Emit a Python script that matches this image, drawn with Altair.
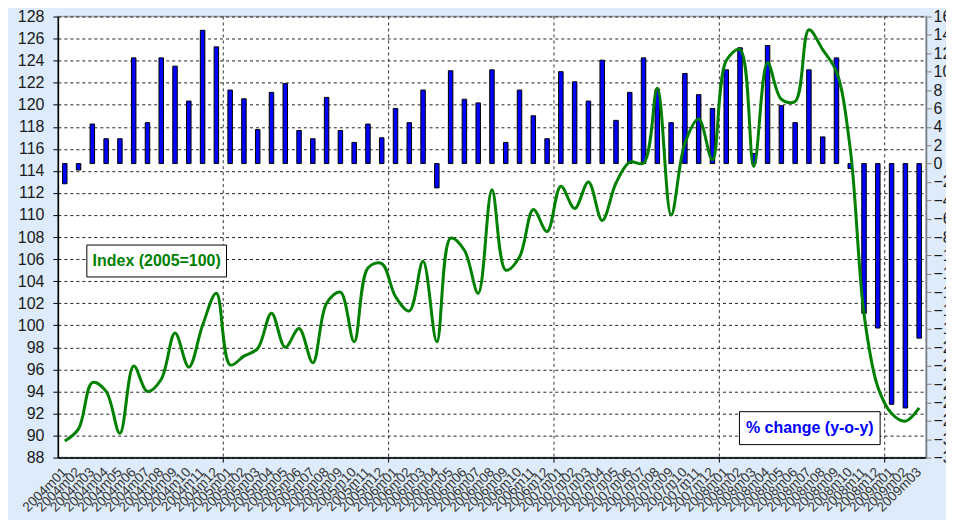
import altair as alt
import pandas as pd

# --- data ---
months = [f"{y}m{m:02d}" for y in range(2004, 2010) for m in range(1, 13)][:63]

index_2005 = [
    89.5, 90.6, 94.8, 94.0, 90.2, 96.3, 94.0, 95.1, 99.3, 96.2,
    100.0, 102.9, 96.4, 97.2, 97.9, 101.1, 98.0, 99.7, 96.6, 102.0,
    103.0, 98.5, 105.2, 105.6, 102.6, 101.3, 105.8, 98.5, 107.9, 106.8,
    102.9, 112.3, 105.0, 106.2, 110.5, 108.5, 112.6, 110.6, 113.0, 109.5,
    112.9, 114.8, 114.7, 121.5, 110.0, 116.5, 118.7, 115.0, 124.0, 125.0,
    114.4, 123.8, 120.5, 120.3, 126.8, 125.0, 123.0, 116.0, 101.0, 94.4,
    92.0, 91.3, 92.5,
]

pct_change = [
    -2.2, -0.7, 4.3, 2.7, 2.7, 11.5, 4.45, 11.5, 10.6, 6.8,
    14.5, 12.7, 8.0, 7.05, 3.7, 7.75, 8.7, 3.6, 2.7, 7.2,
    3.6, 2.3, 4.3, 2.8, 6.0, 4.45, 8.0, -2.65, 10.1, 7.0,
    6.6, 10.2, 2.3, 8.0, 5.2, 2.7, 10.0, 8.9, 6.8, 11.25,
    4.7, 7.75, 11.5, 8.1, 4.45, 9.8, 7.5, 6.0, 10.2, 12.6,
    1.1, 12.85, 6.3, 4.45, 10.2, 2.9, 11.5, -0.55, -16.3, -17.9,
    -26.2, -26.6, -19.0,
]

year_starts = ["2005m01", "2006m01", "2007m01", "2008m01", "2009m01"]
left_ticks = list(range(88, 129, 2))
right_ticks = list(range(-32, 17, 2))
index_label = ["Index (2005=100)"]
pct_label = ["% change (y-o-y)"]

df = pd.DataFrame({"month": months, "index": index_2005, "pct": pct_change})
grid_df = pd.DataFrame({"month": year_starts})

W, H = 870, 442
FONT = "Liberation Sans"

xscale = alt.Scale(domain=months, paddingInner=0, paddingOuter=0)
xaxis = alt.Axis(
    title=None, labelAngle=315, labelAlign="right", labelBaseline="middle",
    labelPadding=12, ticks=False, domain=True, domainColor="black",
    domainWidth=1.5, labelOverlap=False, labelFontSize=13.5,
    labelColor="#333333", labelFont=FONT, grid=False, labelBound=False,
)

vgrid = alt.Chart(grid_df).mark_rule(strokeDash=[3, 3], color="#333333", strokeWidth=1).encode(
    x=alt.X("month:N", bandPosition=0, scale=xscale, axis=xaxis, sort=months)
)
yticks = alt.Chart(grid_df).mark_rule(color="black", strokeWidth=1).encode(
    x=alt.X("month:N", bandPosition=0, scale=xscale, axis=xaxis, sort=months),
    y=alt.value(H), y2=alt.value(H + 5),
)

bars = alt.Chart(df).mark_bar(size=4.5, color="#0000FF", stroke="black", strokeWidth=1).encode(
    x=alt.X("month:N", scale=xscale, axis=xaxis, sort=months),
    y=alt.Y(
        "pct:Q",
        scale=alt.Scale(domain=[-32, 16], nice=False, zero=False),
        axis=alt.Axis(
            orient="right", values=right_ticks, title=None, grid=False,
            labelFontSize=16, labelFont=FONT, labelColor="#1a1a1a",
            tickSize=5, tickColor="#808080", domainColor="#808080",
            domainWidth=1.5, labelPadding=2, labelFlush=False,
        ),
    ),
    y2=alt.datum(0),
)

line = alt.Chart(df).mark_line(color="#008000", strokeWidth=3, interpolate="catmull-rom").encode(
    x=alt.X("month:N", scale=xscale, axis=xaxis, sort=months),
    y=alt.Y(
        "index:Q",
        scale=alt.Scale(domain=[88, 128], nice=False, zero=False),
        axis=alt.Axis(
            orient="left", values=left_ticks, title=None, grid=True,
            gridDash=[3, 3], gridColor="#222222", gridOpacity=1, gridWidth=1,
            labelFontSize=16, labelFont=FONT, labelColor="#1a1a1a",
            tickSize=5, tickColor="black", domainColor="black", domainWidth=1.5,
            labelPadding=9, labelFlush=False,
        ),
    ),
)

idx_box = alt.Chart(pd.DataFrame({"label": index_label})).mark_rect(
    fill="white", stroke="black", strokeWidth=1
).encode(x=alt.value(29), x2=alt.value(169), y=alt.value(229), y2=alt.value(261))
idx_text = alt.Chart(pd.DataFrame({"label": index_label})).mark_text(
    color="#008000", fontSize=16, fontWeight="bold", font=FONT
).encode(text="label:N", x=alt.value(99), y=alt.value(245))

pct_box = alt.Chart(pd.DataFrame({"label": pct_label})).mark_rect(
    fill="white", stroke="black", strokeWidth=1
).encode(x=alt.value(683), x2=alt.value(824), y=alt.value(396), y2=alt.value(429))
pct_text = alt.Chart(pd.DataFrame({"label": pct_label})).mark_text(
    color="#0000FF", fontSize=16, fontWeight="bold", font=FONT
).encode(text="label:N", x=alt.value(753.5), y=alt.value(412.5))

chart = alt.layer(
    vgrid, yticks, bars, line, idx_box, idx_text, pct_box, pct_text
).resolve_scale(y="independent").properties(
    width=W, height=H,
    autosize=alt.AutoSizeParams(type="none"),
    padding={"left": 50, "top": 8, "right": 20, "bottom": 62},
    background="#DDEBFA",
).configure_view(fill="white", stroke="#9AA4AE", strokeWidth=1.5)

chart.save("out.html", embed_options={"renderer": "svg", "actions": False})
